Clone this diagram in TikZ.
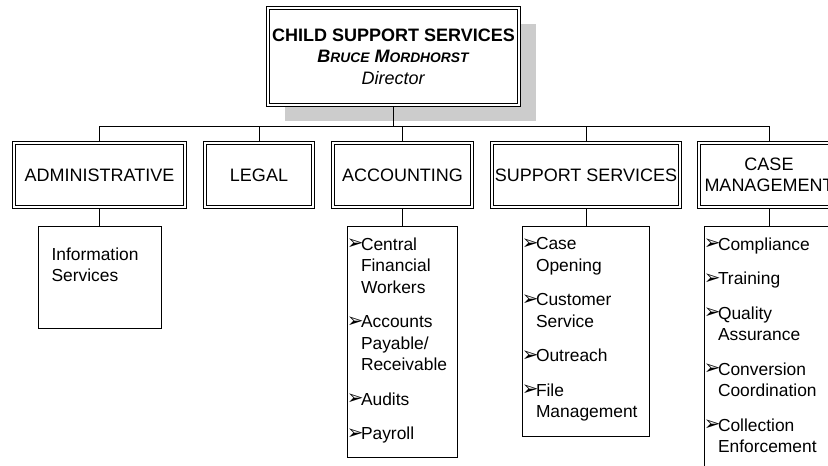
\documentclass[tikz,border=0pt]{standalone}
\usepackage{fontspec}
\setmainfont{Liberation Sans}
\newfontfamily\dingfont{DejaVu Sans}
\usetikzlibrary{shadows}

% bullet and list helpers
\newcommand\blt{{\dingfont\fontsize{20}{15}\selectfont ➢}}
\newcommand\itm[1]{\par\hangindent=13.6pt\hangafter=1\noindent{\let\\\newline\makebox[13.6pt][l]{\hspace{-0.5pt}\raisebox{0.5pt}{\blt}}#1}\par}
\newcommand\inbox[4]{\begin{minipage}[t][#2][t]{#1}\fontsize{17.4}{21.5}\selectfont\vspace*{#3}\raggedright\setlength{\parskip}{13pt}#4\end{minipage}}
\newcommand\smc[1]{{\fontsize{13.8}{13.8}\selectfont #1}}

\tikzset{
  unitbox/.style={draw, fill=white, double, double distance=2.2pt, outer sep=1.9pt, align=center, inner sep=0pt},
  subbox/.style={draw, inner sep=0pt, anchor=north},
}

\begin{document}
\begin{tikzpicture}[x=1pt, y=-1pt, line width=0.8pt, font=\fontsize{18}{21.5}\selectfont]
\path[use as bounding box, clip] (0,0) rectangle (828,466);

\node[unitbox, minimum width=251.2pt, minimum height=97.2pt,
  drop shadow={shadow xshift=17pt, shadow yshift=-16pt, fill=gray!40, opacity=1}]
  (dir) at (393.5,56.5)
  {\textbf{CHILD SUPPORT SERVICES}\\ \textbf{\textit{B\smc{RUCE} M\smc{ORDHORST}}}\\ \textit{Director}};

\coordinate (bus) at (0,126);

\begin{scope}[every node/.style={unitbox, minimum height=64.2pt}]
\node[minimum width=171.2pt] (adm) at (99.5,175) {ADMINISTRATIVE};
\node[minimum width=108.2pt] (leg) at (259,175) {LEGAL};
\node[minimum width=139.2pt] (acc) at (402.5,175) {ACCOUNTING};
\node[minimum width=188.2pt] (sup) at (586,175) {SUPPORT SERVICES};
\node[minimum width=140.2pt] (cm) at (769,175) {CASE\\MANAGEMENT};
\end{scope}

\begin{scope}[every node/.style={subbox}]
\node (inf) at (99.5,226.4) {\inbox{123.2pt}{101.2pt}{21pt}{\leftskip=13.6pt Information\\Services\par}};
\node (acl) at (402.5,226.4) {\inbox{110.2pt}{230.2pt}{11pt}{%
  \itm{Central\\Financial\\Workers}
  \itm{Accounts\\Payable/\\Receivable}
  \itm{Audits}
  \itm{Payroll}}};
\node (spl) at (586,226.4) {\inbox{127.2pt}{209.2pt}{11pt}{%
  \itm{Case\\Opening}
  \itm{Customer\\Service}
  \itm{Outreach}
  \itm{File\\Management}}};
\node (cml) at (769,226.4) {\inbox{129.2pt}{260pt}{11pt}{%
  \itm{Compliance}
  \itm{Training}
  \itm{Quality\\Assurance}
  \itm{Conversion\\Coordination}
  \itm{Collection\\Enforcement}}};
\end{scope}

\begin{scope}[every edge/.style={draw}]
    \path (dir.south) edge (dir.south |- bus);
    \path (adm.north |- bus) edge (cm.north |- bus);
    \path (adm.north) edge (adm.north |- bus);
    \path (leg.north) edge (leg.north |- bus);
    \path (acc.north) edge (acc.north |- bus);
    \path (sup.north) edge (sup.north |- bus);
    \path (cm.north) edge (cm.north |- bus);
    \path (adm.south) edge (inf.north);
    \path (acc.south) edge (acl.north);
    \path (sup.south) edge (spl.north);
    \path (cm.south) edge (cml.north);
\end{scope}
\end{tikzpicture}
\end{document}
